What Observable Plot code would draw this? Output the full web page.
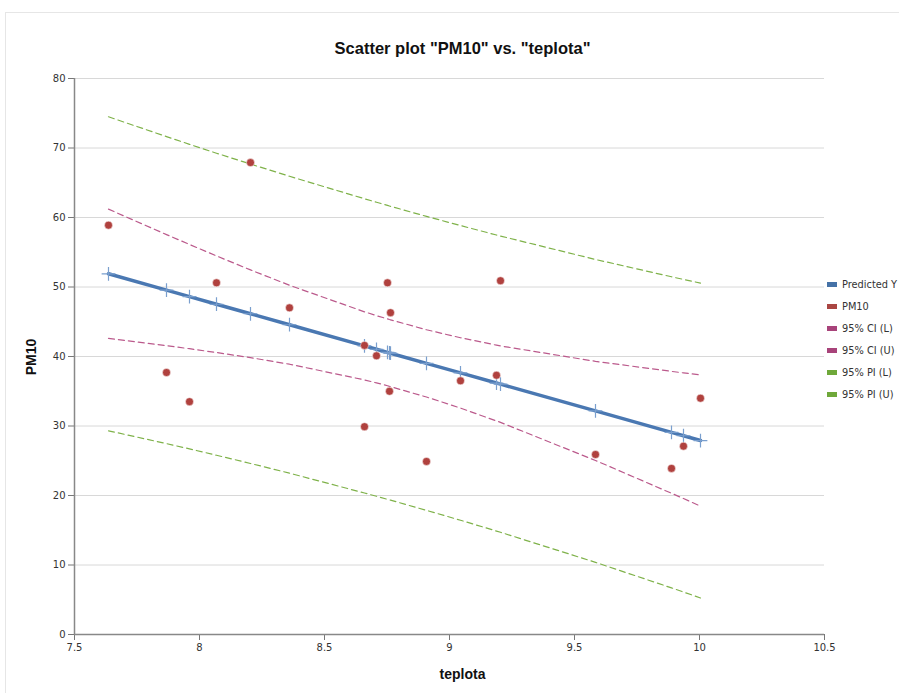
<!DOCTYPE html>
<html>
<head>
<meta charset="utf-8">
<script src="https://cdn.jsdelivr.net/npm/d3@7"></script>
<script src="https://cdn.jsdelivr.net/npm/@observablehq/plot@0.6"></script>
<style>
  html, body { margin: 0; padding: 0; background: #fff; }
  #wrap { position: relative; width: 899px; height: 693px; overflow: hidden; font-family: "DejaVu Sans", Verdana, sans-serif; }
  #frame { position: absolute; left: 5px; top: 12px; width: 1000px; height: 1000px; border-left: 1px solid #e6e6e6; border-top: 1px solid #e6e6e6; }
  #chart { position: absolute; left: 0; top: 0; }
  #title { position: absolute; left: 0; width: 925px; top: 39px; text-align: center; font: bold 16.5px "Liberation Sans", Arial, sans-serif; color: #111; }
  #ylab { position: absolute; left: 31px; top: 357px; transform: translate(-50%, -50%) rotate(-90deg); font: bold 14px "Liberation Sans", Arial, sans-serif; color: #111; }
  #xlab { position: absolute; left: 0; width: 925px; top: 666px; text-align: center; font: bold 14px "Liberation Sans", Arial, sans-serif; color: #111; }
  #legend { position: absolute; left: 827px; top: 273px; }
  .li { height: 22px; display: flex; align-items: center; white-space: nowrap; font-size: 9.8px; color: #333; }
  .sw { width: 10px; height: 5px; margin-right: 5px; }
</style>
</head>
<body>
<div id="wrap">
  <div id="frame"></div>
  <div id="chart"></div>
  <div id="title">Scatter plot "PM10" vs. "teplota"</div>
  <div id="ylab">PM10</div>
  <div id="xlab">teplota</div>
  <div id="legend"></div>
</div>
<script>
// Observed points
const teplota = [7.636, 8.204, 8.068, 8.36, 7.868, 7.96, 8.66, 8.708, 8.752, 8.764, 8.76, 8.66, 8.908, 9.044, 9.188, 9.204, 9.584, 9.888, 9.936, 10.004];
const pm10    = [58.9, 67.9, 50.6, 47.0, 37.7, 33.5, 41.6, 40.1, 50.6, 46.3, 35.0, 29.9, 24.9, 36.5, 37.3, 50.9, 25.9, 23.9, 27.1, 34.0];

// Fitted values at sorted x
const xFit   = [7.636, 7.868, 7.96, 8.068, 8.204, 8.36, 8.66, 8.708, 8.752, 8.76, 8.764, 8.908, 9.044, 9.188, 9.204, 9.584, 9.888, 9.936, 10.004];
const predY  = [51.9, 49.55, 48.62, 47.52, 46.15, 44.57, 41.53, 41.04, 40.6, 40.51, 40.47, 39.01, 37.64, 36.18, 36.02, 32.17, 29.09, 28.6, 27.91];
const ciLow  = [42.6, 41.56, 41.12, 40.57, 39.84, 38.89, 36.63, 36.2, 35.79, 35.7, 35.66, 34.17, 32.58, 30.73, 30.52, 25.04, 20.32, 19.56, 18.47];
const ciUp   = [61.2, 57.54, 56.12, 54.47, 52.46, 50.25, 46.43, 45.88, 45.41, 45.32, 45.28, 43.85, 42.7, 41.63, 41.52, 39.3, 37.86, 37.64, 37.35];
const piLow  = [29.31, 27.46, 26.71, 25.79, 24.61, 23.21, 20.36, 19.89, 19.45, 19.37, 19.33, 17.86, 16.44, 14.88, 14.71, 10.38, 6.71, 6.11, 5.26];
const piUp   = [74.49, 71.64, 70.53, 69.25, 67.69, 65.93, 62.7, 62.19, 61.75, 61.65, 61.61, 60.16, 58.84, 57.48, 57.33, 53.96, 51.47, 51.09, 50.56];

const xTicks = [7.5, 8, 8.5, 9, 9.5, 10, 10.5];
const yTicks = [0, 10, 20, 30, 40, 50, 60, 70, 80];

const seriesNames  = ["Predicted Y", "PM10", "95% CI (L)", "95% CI (U)", "95% PI (L)", "95% PI (U)"];
const seriesColors = ["#4572a7", "#aa4643", "#a8437a", "#a8437a", "#6fa83a", "#6fa83a"];

const points = teplota.map((x, i) => ({x, y: pm10[i]}));
const fit = xFit.map((x, i) => ({x, pred: predY[i], cil: ciLow[i], ciu: ciUp[i], pil: piLow[i], piu: piUp[i]}));

const ciColor = "#bb5a8c";
const piColor = "#7fb24a";

const plot = Plot.plot({
  width: 899,
  height: 693,
  marginLeft: 74,
  marginRight: 75,
  marginTop: 78,
  marginBottom: 59,
  style: {fontFamily: "DejaVu Sans, Verdana, sans-serif", fontSize: "10px", color: "#333", background: "transparent"},
  x: {domain: [7.5, 10.5], ticks: xTicks, tickFormat: d => String(d), tickSize: 6, tickPadding: 3, label: null},
  y: {domain: [0, 80], ticks: yTicks, tickFormat: d => String(d), tickSize: 6, tickPadding: 3, label: null},
  marks: [
    Plot.gridY(yTicks.filter(d => d > 0), {stroke: "#d8d8d8", strokeOpacity: 1, strokeWidth: 1}),
    Plot.axisX({ticks: xTicks, tickFormat: d => String(d), tickSize: 6, tickPadding: 3, stroke: "#777", label: null}),
    Plot.axisY({ticks: yTicks, tickFormat: d => String(d), tickSize: 6, tickPadding: 3, stroke: "#777", label: null}),
    Plot.ruleY([0], {stroke: "#888", strokeWidth: 1.5}),
    Plot.ruleX([7.5], {stroke: "#888", strokeWidth: 1.5}),
    Plot.line(fit, {x: "x", y: "piu", stroke: piColor, strokeWidth: 1.2, strokeDasharray: "6,4"}),
    Plot.line(fit, {x: "x", y: "pil", stroke: piColor, strokeWidth: 1.2, strokeDasharray: "6,4"}),
    Plot.line(fit, {x: "x", y: "ciu", stroke: ciColor, strokeWidth: 1.2, strokeDasharray: "6,4"}),
    Plot.line(fit, {x: "x", y: "cil", stroke: ciColor, strokeWidth: 1.2, strokeDasharray: "6,4"}),
    Plot.line(fit, {x: "x", y: "pred", stroke: "#4a78b2", strokeWidth: 3.5}),
    Plot.dot(fit, {x: "x", y: "pred", symbol: "plus", r: 4.5, stroke: "#7a9fce", strokeWidth: 1.2}),
    Plot.dot(points, {x: "x", y: "y", r: 4, fill: "#b0413e", stroke: "#fff", strokeOpacity: 0.6, strokeWidth: 0.8})
  ]
});
document.getElementById("chart").appendChild(plot);

const leg = document.getElementById("legend");
seriesNames.forEach((n, i) => {
  const d = document.createElement("div");
  d.className = "li";
  const s = document.createElement("span");
  s.className = "sw";
  s.style.background = seriesColors[i];
  d.appendChild(s);
  d.appendChild(document.createTextNode(n));
  leg.appendChild(d);
});
</script>
</body>
</html>
